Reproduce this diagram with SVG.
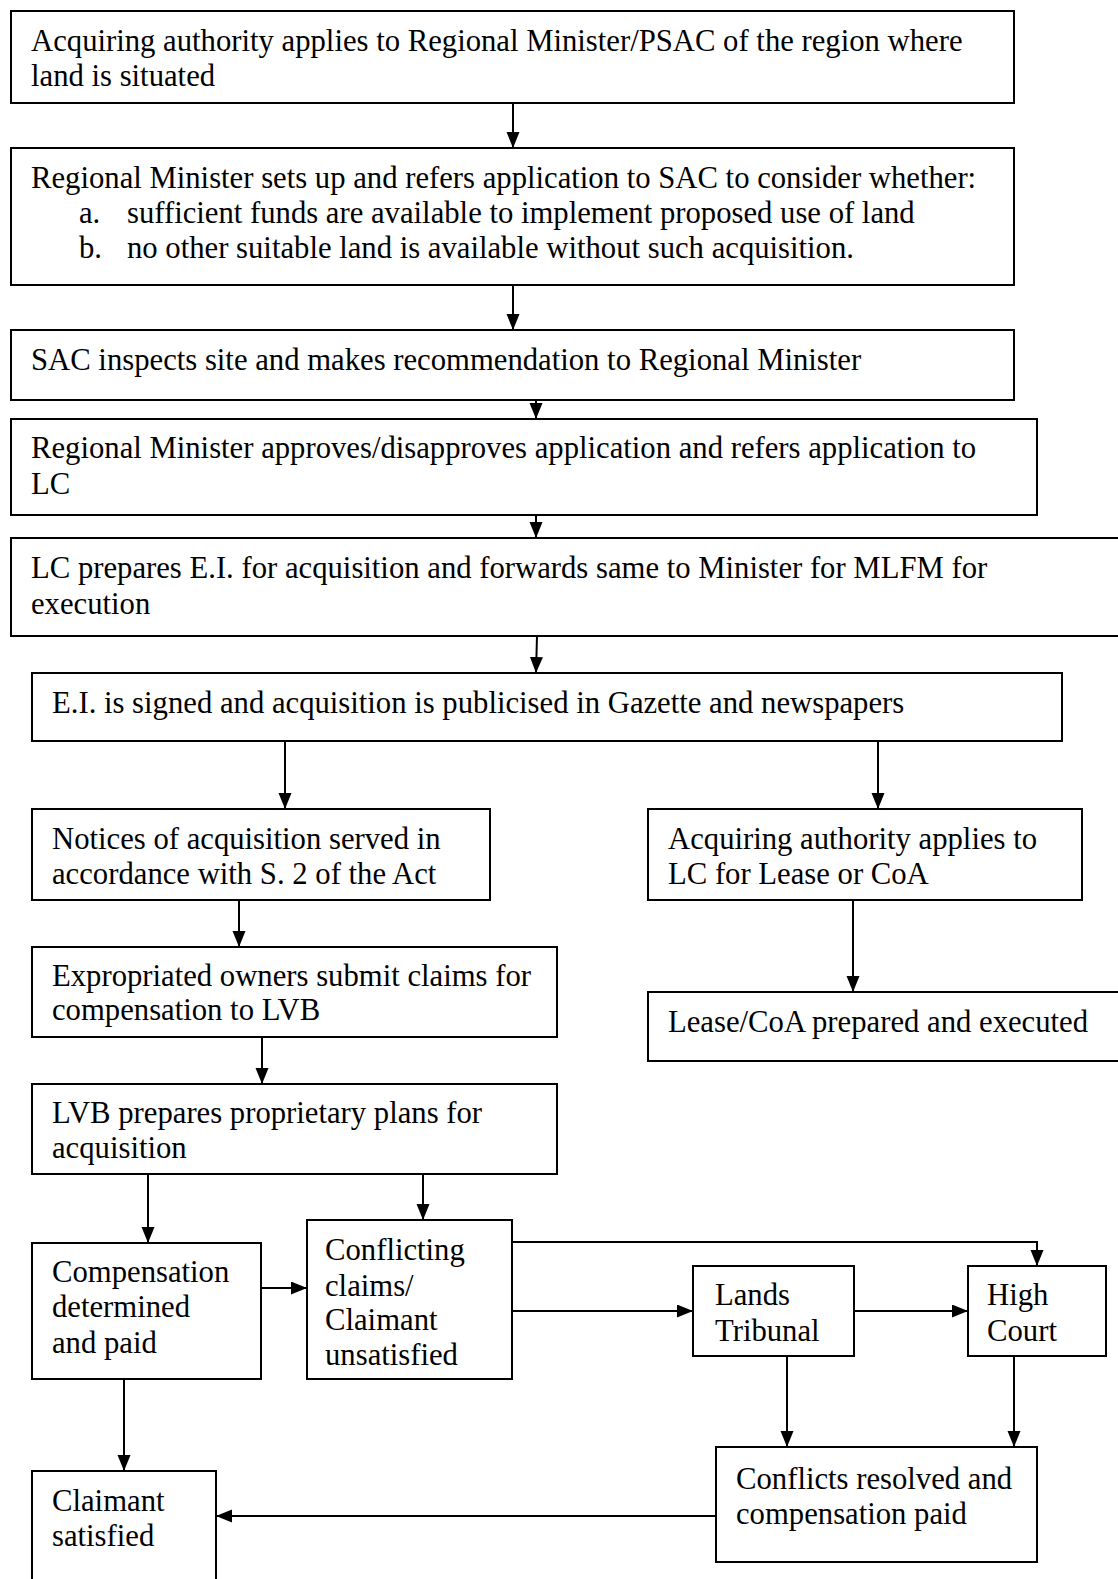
<svg xmlns="http://www.w3.org/2000/svg" width="1118" height="1579" viewBox="0 0 1118 1579">
<style>
.b{fill:#fff;stroke:#000;stroke-width:2}
.t{font-family:"Liberation Serif","Times New Roman",serif;font-size:30.7px;fill:#000}
.c{fill:none;stroke:#000;stroke-width:2}
</style>
<defs>
<marker id="ah" markerUnits="userSpaceOnUse" markerWidth="16" markerHeight="14" refX="16" refY="6.5" orient="auto">
<path d="M0,0 L16,6.5 L0,13 Z" fill="#000"/>
</marker>
</defs>
<rect width="1118" height="1579" fill="#fff"/>
<g id="n1"><rect class="b" x="11" y="11" width="1003" height="92"/>
<text class="t" x="31" y="51">Acquiring authority applies to Regional Minister/PSAC of the region where</text>
<text class="t" x="31" y="86">land is situated</text></g>
<g id="n2"><rect class="b" x="11" y="148" width="1003" height="137"/>
<text class="t" x="31" y="188">Regional Minister sets up and refers application to SAC to consider whether:</text>
<text class="t" x="79" y="223">a.</text><text class="t" x="127" y="223">sufficient funds are available to implement proposed use of land</text>
<text class="t" x="79" y="258">b.</text><text class="t" x="127" y="258">no other suitable land is available without such acquisition.</text></g>
<g id="n3"><rect class="b" x="11" y="330" width="1003" height="70"/>
<text class="t" x="31" y="370">SAC inspects site and makes recommendation to Regional Minister</text></g>
<g id="n4"><rect class="b" x="11" y="419" width="1026" height="96"/>
<text class="t" x="31" y="458">Regional Minister approves/disapproves application and refers application to</text>
<text class="t" x="31" y="494">LC</text></g>
<g id="n5"><rect class="b" x="11" y="538" width="1120" height="98"/>
<text class="t" x="31" y="578">LC prepares E.I. for acquisition and forwards same to Minister for MLFM for</text>
<text class="t" x="31" y="614">execution</text></g>
<g id="n6"><rect class="b" x="32" y="673" width="1030" height="68"/>
<text class="t" x="52" y="713">E.I. is signed and acquisition is publicised in Gazette and newspapers</text></g>
<g id="n7"><rect class="b" x="32" y="809" width="458" height="91"/>
<text class="t" x="52" y="849">Notices of acquisition served in</text>
<text class="t" x="52" y="884">accordance with S. 2 of the Act</text></g>
<g id="n8"><rect class="b" x="648" y="809" width="434" height="91"/>
<text class="t" x="668" y="849">Acquiring authority applies to</text>
<text class="t" x="668" y="884">LC for Lease or CoA</text></g>
<g id="n9"><rect class="b" x="648" y="992" width="480" height="69"/>
<text class="t" x="668" y="1032">Lease/CoA prepared and executed</text></g>
<g id="n10"><rect class="b" x="32" y="947" width="525" height="90"/>
<text class="t" x="52" y="986">Expropriated owners submit claims for</text>
<text class="t" x="52" y="1020">compensation to LVB</text></g>
<g id="n11"><rect class="b" x="32" y="1084" width="525" height="90"/>
<text class="t" x="52" y="1123">LVB prepares proprietary plans for</text>
<text class="t" x="52" y="1158">acquisition</text></g>
<g id="n12"><rect class="b" x="32" y="1243" width="229" height="136"/>
<text class="t" x="52" y="1282">Compensation</text>
<text class="t" x="52" y="1317">determined</text>
<text class="t" x="52" y="1353">and paid</text></g>
<g id="n13"><rect class="b" x="307" y="1220" width="205" height="159"/>
<text class="t" x="325" y="1260">Conflicting</text>
<text class="t" x="325" y="1296">claims/</text>
<text class="t" x="325" y="1330">Claimant</text>
<text class="t" x="325" y="1365">unsatisfied</text></g>
<g id="n14"><rect class="b" x="693" y="1266" width="161" height="90"/>
<text class="t" x="715" y="1305">Lands</text>
<text class="t" x="715" y="1341">Tribunal</text></g>
<g id="n15"><rect class="b" x="968" y="1266" width="138" height="90"/>
<text class="t" x="987" y="1305">High</text>
<text class="t" x="987" y="1341">Court</text></g>
<g id="n16"><rect class="b" x="716" y="1447" width="321" height="115"/>
<text class="t" x="736" y="1489">Conflicts resolved and</text>
<text class="t" x="736" y="1524">compensation paid</text></g>
<g id="n17"><rect class="b" x="32" y="1471" width="184" height="130"/>
<text class="t" x="52" y="1511">Claimant</text>
<text class="t" x="52" y="1546">satisfied</text></g>
<g id="connectors">
<path class="c" marker-end="url(#ah)" d="M513,103 V148"/>
<path class="c" marker-end="url(#ah)" d="M513,285 V330"/>
<path class="c" marker-end="url(#ah)" d="M536,400 V419"/>
<path class="c" marker-end="url(#ah)" d="M536,515 V538"/>
<path class="c" marker-end="url(#ah)" d="M537,636 L536,673"/>
<path class="c" marker-end="url(#ah)" d="M285,741 V809"/>
<path class="c" marker-end="url(#ah)" d="M878,741 V809"/>
<path class="c" marker-end="url(#ah)" d="M853,900 V992"/>
<path class="c" marker-end="url(#ah)" d="M239,900 V947"/>
<path class="c" marker-end="url(#ah)" d="M262,1037 V1084"/>
<path class="c" marker-end="url(#ah)" d="M148,1174 V1243"/>
<path class="c" marker-end="url(#ah)" d="M423,1174 V1220"/>
<path class="c" marker-end="url(#ah)" d="M261,1288 H307"/>
<path class="c" marker-end="url(#ah)" d="M512,1242 H1037 V1266"/>
<path class="c" marker-end="url(#ah)" d="M512,1311 H693"/>
<path class="c" marker-end="url(#ah)" d="M854,1311 H968"/>
<path class="c" marker-end="url(#ah)" d="M787,1356 V1447"/>
<path class="c" marker-end="url(#ah)" d="M1014,1356 V1447"/>
<path class="c" marker-end="url(#ah)" d="M716,1516 H216"/>
<path class="c" marker-end="url(#ah)" d="M124,1379 V1471"/>
</g>
</svg>
